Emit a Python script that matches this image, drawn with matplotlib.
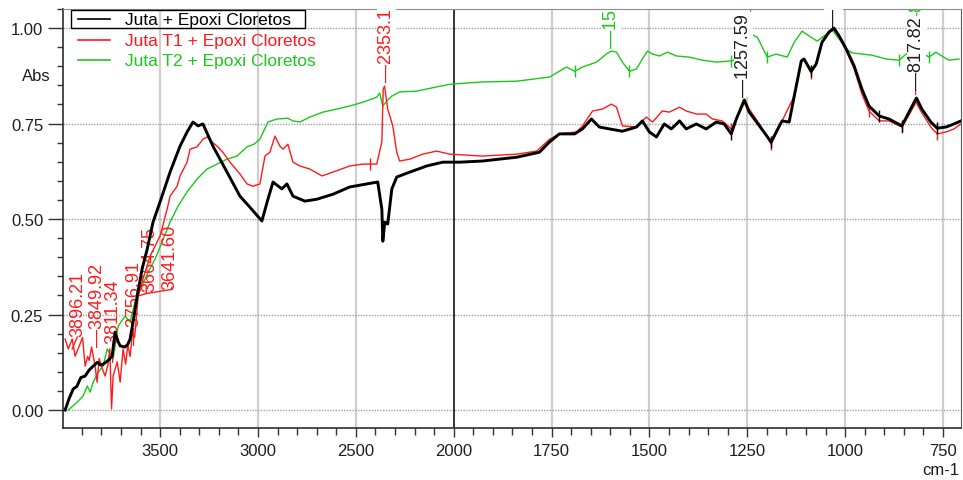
import numpy as np
import matplotlib
matplotlib.use("Agg")
import matplotlib.pyplot as plt
from matplotlib.ticker import FixedLocator, FixedFormatter
from matplotlib.lines import Line2D
from matplotlib.patches import Rectangle

plt.rcParams['font.family'] = ['Liberation Sans', 'DejaVu Sans']

# ---------------------------------------------------------------- data
series_names = ["Juta + Epoxi Cloretos",
                "Juta T1 + Epoxi Cloretos",
                "Juta T2 + Epoxi Cloretos"]
series_colors = ["#000000", "#ff1a1a", "#19c819"]

black_wn = [3985, 3965, 3944, 3925, 3905, 3883, 3862, 3842, 3820, 3805, 3791,
            3765, 3745, 3730, 3715, 3704, 3679, 3665, 3653, 3635, 3617, 3592,
            3566, 3536, 3500, 3449, 3398, 3362, 3332, 3306, 3281, 3230, 3158,
            3092, 3041, 2980, 2949, 2923, 2878, 2852, 2821, 2760, 2699, 2617,
            2531, 2444, 2388, 2367, 2362, 2352, 2337, 2316, 2291, 2224, 2138,
            2056, 1985, 1926, 1839, 1781, 1755, 1730, 1691, 1671, 1648, 1628,
            1602, 1569, 1533, 1518, 1500, 1482, 1462, 1444, 1423, 1406, 1380,
            1355, 1329, 1309, 1291, 1278, 1257.59, 1245, 1219, 1189, 1168,
            1161, 1143, 1130, 1112, 1105, 1087, 1074, 1059, 1041, 1028.64,
            1015, 997, 977, 957, 939, 913, 888, 855, 837, 817.82, 804, 781,
            765, 742, 722, 704]
black_abs = [0.000, 0.030, 0.055, 0.062, 0.085, 0.089, 0.105, 0.115, 0.125,
             0.118, 0.120, 0.130, 0.141, 0.204, 0.180, 0.168, 0.165, 0.172,
             0.186, 0.240, 0.298, 0.369, 0.421, 0.492, 0.545, 0.623, 0.691,
             0.728, 0.754, 0.744, 0.749, 0.691, 0.623, 0.560, 0.531, 0.495,
             0.552, 0.597, 0.579, 0.592, 0.560, 0.547, 0.552, 0.565, 0.584,
             0.592, 0.597, 0.526, 0.442, 0.492, 0.487, 0.579, 0.610, 0.623,
             0.639, 0.649, 0.649, 0.652, 0.662, 0.675, 0.702, 0.723, 0.723,
             0.736, 0.762, 0.741, 0.736, 0.730, 0.741, 0.757, 0.728, 0.715,
             0.749, 0.736, 0.757, 0.736, 0.749, 0.736, 0.754, 0.749, 0.723,
             0.762, 0.812, 0.780, 0.744, 0.702, 0.744, 0.757, 0.754, 0.822,
             0.914, 0.919, 0.887, 0.906, 0.963, 0.990, 1.000, 0.979, 0.945,
             0.901, 0.840, 0.796, 0.770, 0.762, 0.744, 0.780, 0.817, 0.788,
             0.754, 0.738, 0.741, 0.749, 0.757]

red_wn = [3985, 3969, 3949, 3934, 3915, 3896.21, 3883, 3870, 3862, 3849.92,
          3832, 3822, 3811.34, 3796, 3781, 3766, 3756.91, 3748, 3740, 3719,
          3704, 3689, 3676, 3664.75, 3653, 3641.60, 3630, 3612, 3592, 3551,
          3500, 3464, 3449, 3413, 3398, 3362, 3347, 3311, 3281, 3260, 3235,
          3209, 3179, 3143, 3092, 3056, 3026, 2990, 2964, 2939, 2913, 2888,
          2872, 2847, 2821, 2786, 2735, 2673, 2617, 2531, 2464, 2393, 2367,
          2360, 2353.15, 2337, 2311, 2291, 2276, 2224, 2158, 2087, 2020, 1926,
          1839, 1788, 1755, 1730, 1686, 1671, 1645, 1620, 1597, 1584, 1569,
          1533, 1508, 1492, 1467, 1449, 1423, 1406, 1380, 1355, 1339, 1314,
          1291, 1278, 1255, 1245, 1219, 1189, 1161, 1130, 1112, 1105, 1087,
          1074, 1059, 1041, 1028, 1015, 997, 977, 957, 939, 913, 888, 855,
          837, 819, 804, 781, 765, 742, 722, 704]
red_abs = [0.186, 0.160, 0.186, 0.141, 0.165, 0.190, 0.115, 0.140, 0.130,
           0.165, 0.115, 0.073, 0.135, 0.110, 0.089, 0.120, 0.160, 0.003,
           0.089, 0.126, 0.073, 0.160, 0.120, 0.170, 0.140, 0.200, 0.190,
           0.298, 0.335, 0.403, 0.456, 0.526, 0.560, 0.586, 0.613, 0.649,
           0.683, 0.689, 0.709, 0.715, 0.702, 0.691, 0.675, 0.649, 0.618,
           0.592, 0.586, 0.592, 0.665, 0.675, 0.717, 0.691, 0.683, 0.696,
           0.649, 0.639, 0.631, 0.613, 0.623, 0.639, 0.644, 0.644, 0.702,
           0.840, 0.848, 0.788, 0.744, 0.675, 0.652, 0.657, 0.670, 0.678,
           0.670, 0.665, 0.670, 0.678, 0.709, 0.723, 0.728, 0.744, 0.783,
           0.788, 0.801, 0.793, 0.744, 0.741, 0.767, 0.754, 0.783, 0.780,
           0.793, 0.783, 0.775, 0.775, 0.762, 0.757, 0.736, 0.762, 0.808,
           0.788, 0.749, 0.696, 0.757, 0.822, 0.914, 0.919, 0.882, 0.903,
           0.961, 0.987, 0.997, 0.976, 0.940, 0.893, 0.827, 0.783, 0.757,
           0.757, 0.741, 0.772, 0.806, 0.778, 0.741, 0.723, 0.728, 0.736,
           0.749]

green_wn = [3969, 3923, 3893, 3872, 3857, 3842, 3816, 3791, 3770, 3740, 3714,
            3679, 3653, 3628, 3592, 3561, 3526, 3490, 3449, 3408, 3362, 3311,
            3260, 3209, 3158, 3107, 3056, 3020, 2990, 2949, 2903, 2847, 2821,
            2786, 2735, 2668, 2597, 2531, 2464, 2393, 2378, 2362, 2342, 2316,
            2276, 2189, 2087, 2020, 1926, 1839, 1755, 1730, 1712, 1691, 1671,
            1635, 1610, 1597.26, 1584, 1569, 1551, 1533, 1518, 1505, 1492,
            1474, 1454, 1431, 1398, 1365, 1329, 1291, 1278, 1258, 1240.35,
            1224, 1199, 1176, 1148, 1130, 1110, 1087, 1071, 1048, 1033, 1015,
            997, 982, 931, 895, 862, 844, 829, 815.93, 786, 768, 753, 735, 709]
green_abs = [0.000, 0.021, 0.037, 0.063, 0.047, 0.073, 0.099, 0.115, 0.160,
             0.134, 0.220, 0.246, 0.230, 0.283, 0.325, 0.361, 0.395, 0.440,
             0.492, 0.534, 0.571, 0.605, 0.631, 0.644, 0.657, 0.665, 0.689,
             0.696, 0.709, 0.754, 0.762, 0.764, 0.757, 0.754, 0.767, 0.780,
             0.788, 0.796, 0.806, 0.819, 0.830, 0.796, 0.809, 0.822, 0.833,
             0.835, 0.846, 0.853, 0.859, 0.861, 0.872, 0.887, 0.898, 0.887,
             0.898, 0.911, 0.932, 0.940, 0.937, 0.911, 0.887, 0.893, 0.919,
             0.940, 0.932, 0.927, 0.937, 0.927, 0.924, 0.916, 0.911, 0.914,
             0.919, 0.958, 0.984, 0.976, 0.924, 0.932, 0.924, 0.963, 0.992,
             0.976, 0.966, 0.984, 0.995, 0.971, 0.945, 0.935, 0.929, 0.919,
             0.916, 0.932, 0.937, 0.945, 0.924, 0.937, 0.927, 0.916, 0.919]

# peak-picking marks on each spectrum
black_marks = [1291, 1189, 1087, 913, 855, 765]
red_marks = [2429, 1291, 1189, 1087, 939, 855, 765]
green_marks = [1691, 1551, 1291, 1199, 862, 786]

x_ticks = [3500, 3000, 2500, 2000, 1750, 1500, 1250, 1000, 750]
x_minor = [3900, 3800, 3700, 3600, 3400, 3300, 3200, 3100, 2900, 2800, 2700,
           2600, 2400, 2300, 2200, 2100, 1950, 1900, 1850, 1800, 1700, 1650,
           1600, 1550, 1450, 1400, 1350, 1300, 1200, 1150, 1100, 1050, 950,
           900, 850, 800, 700]
y_ticks = [0.00, 0.25, 0.50, 0.75, 1.00]
y_labels = ["0.00", "0.25", "0.50", "0.75", "1.00"]


# wavenumber axis: scale below 2000 cm-1 is expanded by a factor of two
def fwd(x):
    x = np.asarray(x, float)
    return np.where(x >= 2000, x, 2 * x - 2000)


def inv(u):
    u = np.asarray(u, float)
    return np.where(u >= 2000, u, (u + 2000) / 2)


fig = plt.figure(figsize=(9.63, 4.81), dpi=100)
ax = fig.add_axes([63 / 963, 52 / 481, 898 / 963, 419 / 481])
ax.set_xscale('function', functions=(fwd, inv))
ax.set_xlim(3996, 704)
ax.set_ylim(-0.047, 1.050)

ax.xaxis.set_major_locator(FixedLocator(x_ticks))
ax.xaxis.set_major_formatter(FixedFormatter([str(t) for t in x_ticks]))
ax.xaxis.set_minor_locator(FixedLocator(x_minor))
ax.yaxis.set_major_locator(FixedLocator(y_ticks))
ax.yaxis.set_major_formatter(FixedFormatter(y_labels))
ax.yaxis.set_minor_locator(FixedLocator(np.arange(-0.05, 1.06, 0.05)))

tick_col = "#333333"
ax.tick_params(axis='x', which='major', direction='out', length=6.5, width=1,
               color=tick_col, labelsize=12, labelcolor="#1e1e1e", pad=4)
ax.tick_params(axis='x', which='minor', direction='out', length=5, width=1,
               color=tick_col)
ax.tick_params(axis='y', which='major', direction='out', length=10.8, width=1,
               color=tick_col, labelsize=12, labelcolor="#1e1e1e", pad=3.5)
ax.tick_params(axis='y', which='minor', direction='out', length=4.3, width=1,
               color=tick_col)

for s in ('left', 'bottom'):
    ax.spines[s].set_color("#2e2e2e")
    ax.spines[s].set_linewidth(1.2)
ax.spines['top'].set_color("#8c8c8c")
ax.spines['right'].set_color("#5a5a5a")

# grid
for t in x_ticks:
    if t == 2000:
        ax.axvline(t, color="#000000", lw=1.1, zorder=1)
    else:
        ax.axvline(t, color="#cfcfcf", lw=1.6, zorder=0.5)
for t in y_ticks:
    ax.axhline(t, color="#a0a0a0", lw=1.0, ls=(0, (1, 1)), zorder=0.6)

# spectra
ax.plot(green_wn, green_abs, color=series_colors[2], lw=1.0, zorder=2)
ax.plot(red_wn, red_abs, color=series_colors[1], lw=1.0, zorder=3)
ax.plot(black_wn, black_abs, color=series_colors[0], lw=2.1, zorder=5,
        solid_joinstyle='round')


def marks(wn, ab, where, col, z):
    w = np.asarray(where, float)
    yv = np.interp(w, np.asarray(wn)[::-1], np.asarray(ab)[::-1])
    ax.plot(w, yv, ls='none', marker='|', ms=8, mew=1.0, color=col, zorder=z)


marks(green_wn, green_abs, green_marks, series_colors[2], 2)
marks(red_wn, red_abs, red_marks, series_colors[1], 3)
marks(black_wn, black_abs, black_marks, series_colors[0], 5)


# peak labels
def peak_label(x, y, txt, col, z, box=True, size=13):
    kw = dict(rotation=90, ha='center', va='bottom', color=col,
              fontsize=size, clip_on=True, zorder=z)
    if box:
        kw['bbox'] = dict(fc='white', ec='none', pad=0.6)
    ax.text(x, y, txt, **kw)


peak_label(2345, 0.862, "\u20142353.15", series_colors[1], 3.5)
peak_label(1597.26, 0.950, "\u20141597.26", series_colors[2], 2.5)
peak_label(1240.35, 1.042, "\u20141240.35", series_colors[2], 2.5)
peak_label(815.93, 0.998, "\u2014815.93", series_colors[2], 2.5)
peak_label(1259, 0.822, "\u20141257.59", "#1e1e1e", 4)
peak_label(1029, 1.006, "\u20141028.64", "#1e1e1e", 4)
peak_label(818.6, 0.830, "\u2014818.17", series_colors[1], 3.6)
peak_label(818, 0.840, "\u2014817.82", "#1e1e1e", 4)

# crowded labels in the 3600-3900 cm-1 region
peak_label(3918, 0.194, "3896.21", series_colors[1], 2.5, box=False)
ax.plot([3949, 3923], [0.160, 0.191], color=series_colors[1], lw=1.0, zorder=2.5)
peak_label(3821, 0.168, "\u20143849.92", series_colors[1], 2.5, box=False)
peak_label(3740, 0.128, "\u20143811.34", series_colors[1], 2.5, box=False)
peak_label(3633, 0.173, "\u20143756.91", series_colors[1], 2.5, box=False)
peak_label(3551, 0.311, "3664.75", series_colors[1], 2.5, box=False)
peak_label(3449, 0.318, "3641.60", series_colors[1], 2.5, box=False)
ax.plot([3617, 3571, 3571], [0.298, 0.305, 0.322], color=series_colors[1],
        lw=1.0, zorder=2.5)
ax.plot([3571, 3439, 3439], [0.305, 0.316, 0.322], color=series_colors[1],
        lw=1.0, zorder=2.5)

# legend
rows = [0.976, 0.926, 0.878]
for name, col, fy in zip(series_names, series_colors, rows):
    ax.add_line(Line2D([0.0167, 0.0523], [fy, fy], transform=ax.transAxes,
                       color=col, lw=1.2, zorder=10))
    ax.text(0.069, fy, name, transform=ax.transAxes, color=col, fontsize=12.5,
            va='center', ha='left', zorder=10)
ax.add_patch(Rectangle((0.0089, 0.9547), 0.2606, 0.0429, transform=ax.transAxes,
                       fill=False, ec='black', lw=1.0, zorder=10))

fig.text(36 / 963, 1 - 77 / 481, "Abs", fontsize=12, ha='center', va='center',
         color="#1e1e1e")
fig.text(959 / 963, 1 - 471 / 481, "cm-1", fontsize=12, ha='right',
         va='center', color="#1e1e1e")

fig.savefig("out.png", dpi=100, facecolor='white')
